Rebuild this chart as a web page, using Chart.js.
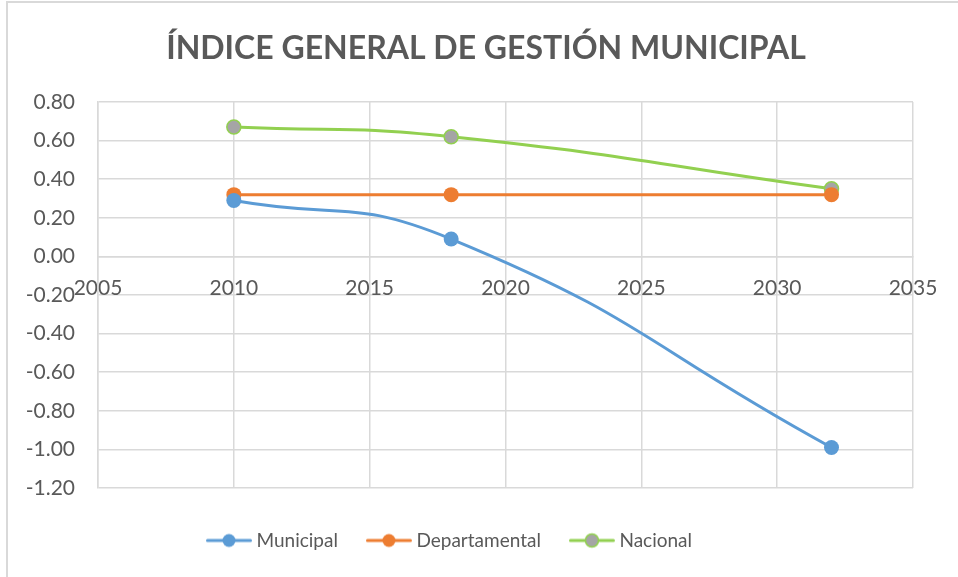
<!DOCTYPE html>
<html>
<head>
<meta charset="utf-8">
<script src="https://cdn.jsdelivr.net/npm/chart.js@4.4.1/dist/chart.umd.min.js"></script>
<style>
  body { margin: 0; background: #fff; }
  #frame { position: absolute; left: 6px; top: 1px; width: 960px; height: 580px;
           border-left: 2px solid #d9d9d9; border-top: 2px solid #d9d9d9; }
  #wrap { position: absolute; left: 0; top: 0; width: 958px; height: 577px; }
</style>
</head>
<body>
<div id="frame"></div>
<div id="wrap"><canvas id="chart" width="958" height="577"></canvas></div>
<script>
// data
const years = [2010, 2018, 2032];
const municipal = [0.29, 0.09, -0.99];
const departamental = [0.32, 0.32, 0.32];
const nacional = [0.67, 0.62, 0.35];
const seriesNames = ['Municipal', 'Departamental', 'Nacional'];
const xTicks = [2005, 2010, 2015, 2020, 2025, 2030, 2035];
const yTicks = [-1.2, -1.0, -0.8, -0.6, -0.4, -0.2, 0, 0.2, 0.4, 0.6, 0.8];

const textColor = '#595959';
const gridColor = '#d9d9d9';

function toPoints(values) {
    return years.map((y, i) => ({ x: y, y: values[i] }));
}

// legend marker: line with a dot on it
function legendMarker(lineColor, fillColor, borderColor) {
    const c = document.createElement('canvas');
    c.width = 56;
    c.height = 18;
    const g = c.getContext('2d');
    g.strokeStyle = lineColor;
    g.lineWidth = 3;
    g.lineCap = 'round';
    g.beginPath();
    g.moveTo(1.5, 9);
    g.lineTo(44.5, 9);
    g.stroke();
    g.beginPath();
    g.arc(23, 9, 6.5, 0, Math.PI * 2);
    g.fillStyle = fillColor;
    g.fill();
    if (borderColor) {
        g.lineWidth = 1.5;
        g.strokeStyle = borderColor;
        g.stroke();
    }
    return c;
}

const markers = [
    legendMarker('#5b9bd5', '#5b9bd5'),
    legendMarker('#ed7d31', '#ed7d31'),
    legendMarker('#92d050', '#a5a5a5', '#92d050')
];

// the title sits a bit right of the legend in the original
const titleShift = {
    id: 'titleShift',
    afterLayout(chart) {
        chart.titleBlock.left += 59;
    }
};

const ctx = document.getElementById('chart').getContext('2d');
new Chart(ctx, {
    type: 'scatter',
    data: {
        datasets: [
            {
                label: seriesNames[0],
                data: toPoints(municipal),
                showLine: true,
                tension: 0.5,
                borderColor: '#5b9bd5',
                backgroundColor: '#5b9bd5',
                borderWidth: 3,
                pointRadius: 7.5,
                pointBorderWidth: 0
            },
            {
                label: seriesNames[1],
                data: toPoints(departamental),
                showLine: true,
                tension: 0.5,
                borderColor: '#ed7d31',
                backgroundColor: '#ed7d31',
                borderWidth: 3,
                pointRadius: 7.5,
                pointBorderWidth: 0
            },
            {
                label: seriesNames[2],
                data: toPoints(nacional),
                showLine: true,
                tension: 0.5,
                borderColor: '#92d050',
                backgroundColor: '#a5a5a5',
                pointBorderColor: '#92d050',
                borderWidth: 3,
                pointRadius: 7,
                pointBorderWidth: 1.5
            }
        ]
    },
    options: {
        responsive: false,
        animation: false,
        layout: { padding: { left: 0, right: 45, top: 0, bottom: 17 } },
        plugins: {
            title: {
                display: true,
                text: 'ÍNDICE GENERAL DE GESTIÓN MUNICIPAL',
                color: textColor,
                font: { family: 'Lato', size: 32, weight: 'bold' },
                padding: { top: 29, bottom: 34.6 }
            },
            legend: {
                position: 'bottom',
                labels: {
                    usePointStyle: true,
                    pointStyleWidth: 26,
                    padding: 43,
                    color: textColor,
                    font: { family: 'Lato', size: 19 },
                    generateLabels(chart) {
                        const items = Chart.defaults.plugins.legend.labels.generateLabels(chart);
                        items.forEach((it, i) => { it.pointStyle = markers[i]; });
                        return items;
                    }
                }
            },
            tooltip: { enabled: false }
        },
        scales: {
            x: {
                type: 'linear',
                position: { y: 0 },
                min: xTicks[0],
                max: xTicks[xTicks.length - 1],
                afterBuildTicks(scale) { scale.ticks = xTicks.map(v => ({ value: v })); },
                ticks: {
                    color: textColor,
                    font: { family: 'Lato', size: 21 },
                    padding: 19,
                    callback: v => String(v)
                },
                grid: { color: gridColor, lineWidth: 1.5, drawTicks: false },
                border: { color: gridColor, width: 1.5 }
            },
            y: {
                min: yTicks[0],
                max: yTicks[yTicks.length - 1],
                afterBuildTicks(scale) { scale.ticks = yTicks.map(v => ({ value: v })); },
                afterFit(scale) { scale.width = 98; },
                ticks: {
                    color: textColor,
                    font: { family: 'Lato', size: 21 },
                    padding: 23,
                    callback: v => v.toFixed(2)
                },
                grid: { color: gridColor, lineWidth: 1.5, drawTicks: false },
                border: { color: gridColor, width: 1.5 }
            }
        }
    },
    plugins: [titleShift]
});
</script>
</body>
</html>
